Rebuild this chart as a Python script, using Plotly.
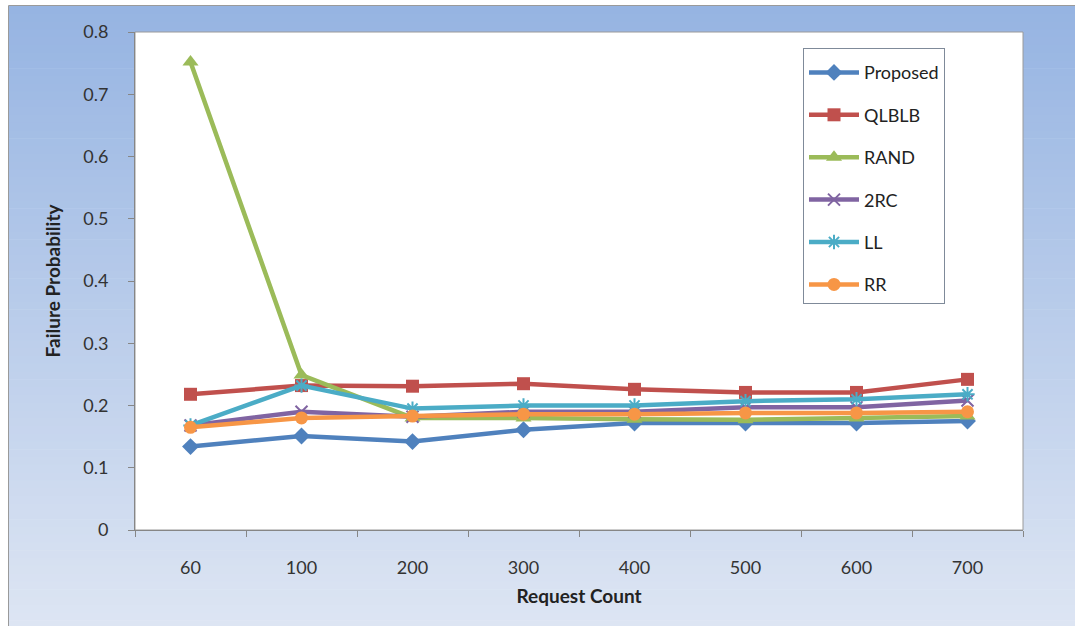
import plotly.graph_objects as go

categories = ["60", "100", "200", "300", "400", "500", "600", "700"]
proposed = [0.134, 0.151, 0.142, 0.161, 0.172, 0.172, 0.172, 0.175]
qlblb = [0.218, 0.232, 0.231, 0.235, 0.226, 0.221, 0.221, 0.242]
rand = [0.752, 0.249, 0.180, 0.180, 0.178, 0.177, 0.180, 0.183]
two_rc = [0.168, 0.190, 0.182, 0.190, 0.190, 0.197, 0.197, 0.208]
ll = [0.168, 0.232, 0.195, 0.200, 0.200, 0.207, 0.210, 0.218]
rr = [0.165, 0.180, 0.183, 0.186, 0.186, 0.188, 0.188, 0.190]
y_ticks = [0, 0.1, 0.2, 0.3, 0.4, 0.5, 0.6, 0.7, 0.8]
y_tick_text = ["0", "0.1", "0.2", "0.3", "0.4", "0.5", "0.6", "0.7", "0.8"]

series = [
    ("Proposed", proposed, "#4F81BD", "diamond", 13, 0),
    ("QLBLB", qlblb, "#C0504D", "square", 13, 0),
    ("RAND", rand, "#9BBB59", "triangle-up", 14, 0),
    ("2RC", two_rc, "#8064A2", "x-thin-open", 12, 2),
    ("LL", ll, "#4BACC6", "asterisk-open", 12, 2),
    ("RR", rr, "#F79646", "circle", 13, 0),
]

FONT = "Lato, 'Liberation Sans', sans-serif"
W, H = 1075, 626
ML, MR, MT, MB = 135, 52, 32, 96
PW, PH = W - ML - MR, H - MT - MB

fig = go.Figure()
for i, (name, vals, color, sym, size, lw) in enumerate(series):
    mk = dict(symbol=sym, size=size, color=color)
    if lw:
        mk["line"] = dict(color=color, width=lw)
    fig.add_trace(go.Scatter(
        x=categories, y=vals, name=name, mode="lines+markers",
        line=dict(color=color, width=4.5), marker=mk,
        legendgroup=f"g{i}",
    ))

def px2paper_x(px):
    return (px - ML) / PW

def px2paper_y(py):
    return (H - MB - py) / PH

shapes = []
x0, x1 = px2paper_x(9), px2paper_x(W + 2)
top_px, bot_px = 6, H + 2
n = 80
c_top = (150, 180, 226)
c_bot = (221, 229, 243)
for k in range(n):
    t = k / (n - 1)
    c = tuple(round(c_top[j] + (c_bot[j] - c_top[j]) * t) for j in range(3))
    ya = top_px + (bot_px - top_px) * k / n
    yb = top_px + (bot_px - top_px) * (k + 1) / n + 0.6
    shapes.append(dict(type="rect", xref="paper", yref="paper", layer="below",
                       x0=x0, x1=x1, y0=px2paper_y(yb), y1=px2paper_y(ya),
                       line=dict(width=0), fillcolor=f"rgb{c}"))
shapes.append(dict(type="rect", xref="paper", yref="paper", layer="below",
                   x0=px2paper_x(8.5), x1=px2paper_x(W + 5), y0=px2paper_y(H + 5), y1=px2paper_y(5.5),
                   line=dict(color="#9a9a9a", width=1), fillcolor="rgba(0,0,0,0)"))
shapes.append(dict(type="rect", xref="paper", yref="paper", layer="below",
                   x0=0, x1=1, y0=0, y1=1,
                   line=dict(color="#9a9a9a", width=1), fillcolor="white"))

fig.update_layout(
    width=W, height=H,
    margin=dict(l=ML, r=MR, t=MT, b=MB),
    paper_bgcolor="white",
    plot_bgcolor="white",
    font=dict(family=FONT, size=15, color="#333333"),
    shapes=shapes,
    showlegend=True,
    legend=dict(
        x=(803 - ML) / PW, y=px2paper_y(48), xanchor="left", yanchor="top",
        bgcolor="white", bordercolor="#7f8a99", borderwidth=1,
        font=dict(family=FONT, size=18, color="#222222"),
        tracegroupgap=16, itemwidth=50,
        title=dict(text=" ", font=dict(size=4)),
    ),
    xaxis=dict(
        type="category", range=[-0.5, 7.5],
        showline=True, linecolor="#868686", linewidth=1,
        ticks="outside", ticklen=6, tickcolor="#868686", tickson="boundaries",
        showgrid=False, zeroline=False,
        ticklabelstandoff=21,
        tickfont=dict(family=FONT, size=18, color="#333333"),
        title=dict(text="<b>Request Count</b>", standoff=13,
                   font=dict(family=FONT, size=19, color="#222222")),
    ),
    yaxis=dict(
        range=[0, 0.8], tickvals=y_ticks, ticktext=y_tick_text,
        showline=True, linecolor="#868686", linewidth=1,
        ticks="outside", ticklen=6, tickcolor="#868686",
        showgrid=False, zeroline=False,
        ticklabelstandoff=16,
        tickfont=dict(family=FONT, size=18, color="#333333"),
        title=dict(text="<b>Failure Probability</b>", standoff=17,
                   font=dict(family=FONT, size=19, color="#222222")),
    ),
)

fig.write_html("out.html")
